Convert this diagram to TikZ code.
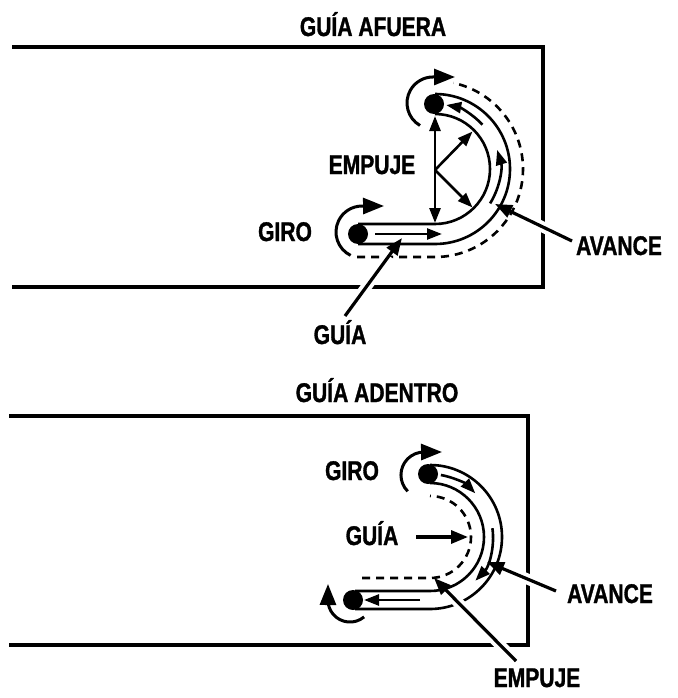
\documentclass[tikz,border=0pt]{standalone}
\usepackage{fontspec}
\setmainfont{Liberation Sans}[FakeStretch=0.78, BoldFeatures={FakeBold=1.2}]
\usetikzlibrary{arrows.meta}
\begin{document}
\begin{tikzpicture}[x=1pt,y=1pt,yscale=-1,
  lbl/.style={font=\fontsize{27}{30}\selectfont\bfseries, inner sep=0pt, anchor=base},
  wall/.style={line width=4pt},
  tube/.style={line width=2.6pt},
  guide/.style={line width=2.6pt, dash pattern=on 8pt off 6pt},
  flow/.style={line width=2.6pt, -{Triangle[length=15pt,width=11pt]}},
  push/.style={line width=2.6pt, {Triangle[length=15pt,width=11pt]}-{Triangle[length=15pt,width=11pt]}},
  turn/.style={line width=3pt, -{Triangle[length=21pt,width=16pt]}},
  pointer/.style={line width=3.2pt, -{Triangle[length=17pt,width=13pt]}},
  halo/.style={preaction={draw=white, line width=11pt, -, shorten >=22pt}},
  dot/.style={circle, fill=black, inner sep=0pt, minimum size=20pt}]
\useasboundingbox (0,0) rectangle (677,698);

% ---------- outside guide ----------
\node[lbl] (titleA) at (373,36) {GUÍA AFUERA};
\draw[wall] (12,47) -- (543,47) -- (543,287) -- (12,287);

% guide tube
\draw[tube] (358,224) -- (435,224) arc[start angle=90,end angle=-90,radius=55];
\draw[tube] (358,244) -- (435,244) arc[start angle=90,end angle=-90,radius=75];
\draw[guide] (357,257) -- (435,257) arc[start angle=90,end angle=-78,radius=88];

% advance along the tube
\draw[flow] (375,234) -- (442,234);
\draw[flow] (490.1,203.4) arc[start angle=32,end angle=-17,radius=65];
\draw[flow] (482.5,124.7) arc[start angle=-43,end angle=-80,radius=65];

% thrust
\coordinate (pa) at (435,116);
\coordinate (pb) at (435,223);
\coordinate (pc) at (435,170);
\coordinate (pd) at (472.5,131.5);
\coordinate (pe) at (472.5,207.5);
\draw[push] (pa) -- (pb);
\draw[flow] (pc) -- (pd);
\draw[flow] (pc) -- (pe);

% ends of the tube
\node[dot] (dA1) at (434,104) {};
\node[dot] (dA2) at (358,234) {};

% rotation
\draw[turn] (420,125.5) arc[start angle=120,end angle=270,radius=26] -- (455,77);
\draw[turn] (350.6,255.4) arc[start angle=116,end angle=270,radius=26] -- (384,206);

% labels
\node[lbl] (empA) at (372,174) {EMPUJE};
\node[lbl] (giroA) at (285,241) {GIRO};
\node[lbl] (avA) at (619,255) {AVANCE};
\node[lbl] (guiaA) at (340,344) {GUÍA};
\coordinate (avAt) at (572,241);
\coordinate (avAh) at (495,204);
\coordinate (guiaAt) at (345,316);
\coordinate (guiaAh) at (402,238);
\draw[pointer,halo] (avAt) -- (avAh);
\draw[pointer,halo] (guiaAt) -- (guiaAh);

% ---------- inside guide ----------
\node[lbl] (titleB) at (377,402) {GUÍA ADENTRO};
\draw[wall] (9,416) -- (528,416) -- (528,645) -- (9,645);

% guide tube
\draw[tube] (355,591) -- (430,591) arc[start angle=90,end angle=-90,radius=54];
\draw[tube] (355,609) -- (430,609) arc[start angle=90,end angle=-90,radius=72];
\draw[guide] (362,578) -- (430,578) arc[start angle=90,end angle=-90,radius=41];

% advance along the tube
\draw[flow] (440.9,475) arc[start angle=-80,end angle=-44,radius=63];
\draw[flow] (492.4,528.2) arc[start angle=-8,end angle=44,radius=63];
\draw[flow] (420,600) -- (364,600);

% ends of the tube
\node[dot] (dB1) at (428,474) {};
\node[dot] (dB2) at (353,600) {};

% rotation
\draw[turn] (407.7,491.3) arc[start angle=135,end angle=270,radius=23] -- (442,452);
\draw[turn] (364.1,616.9) arc[start angle=50,end angle=180,radius=22] -- (328,584);

% labels
\node[lbl] (giroB) at (352,480) {GIRO};
\node[lbl] (guiaB) at (372,545) {GUÍA};
\node[lbl] (avB) at (610,603) {AVANCE};
\node[lbl] (empB) at (537,687) {EMPUJE};
\coordinate (guiaBt) at (416,537);
\coordinate (guiaBh) at (468,537);
\coordinate (avBt) at (556,591);
\coordinate (avBh) at (487,562);
\coordinate (empBt) at (516,661);
\coordinate (empBh) at (434,578);
\draw[pointer] (guiaBt) -- (guiaBh);
\draw[pointer,halo] (avBt) -- (avBh);
\draw[pointer,halo] (empBt) -- (empBh);
\end{tikzpicture}
\end{document}
